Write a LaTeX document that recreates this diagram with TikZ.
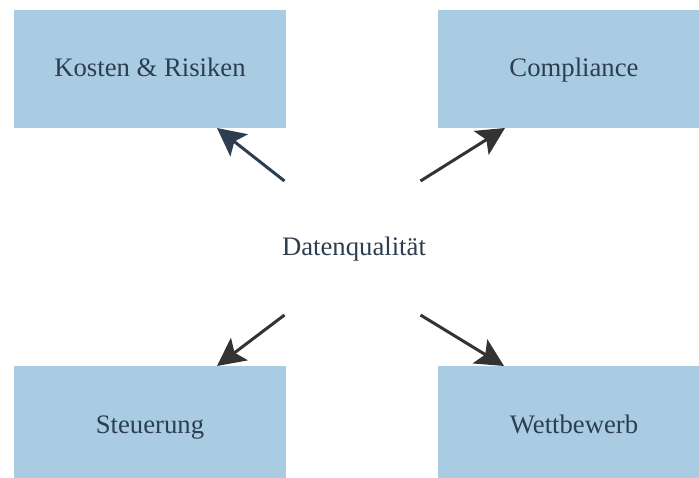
\documentclass[tikz,border=0pt]{standalone}
\usepackage{fontspec}
\setmainfont{Liberation Serif}
\usetikzlibrary{arrows.meta}
\definecolor{boxfill}{HTML}{A9CCE3}
\definecolor{navy}{HTML}{2C3E50}
\definecolor{dgray}{HTML}{333333}
\begin{document}
\begin{tikzpicture}[x=1pt,y=-1pt,
  box/.style={draw=none,fill=boxfill,minimum width=272pt,minimum height=118pt,inner sep=0pt,text height=16pt,text depth=0pt,text=navy,font=\fontsize{26.7}{30}\selectfont},
  center/.style={draw=none,inner sep=0pt,text height=18pt,text depth=0pt,text=navy,font=\fontsize{26.7}{30}\selectfont},
  arr/.style={line width=3pt,-{Stealth[length=28pt,width=28pt,inset=6pt]}}]
\clip (0,0) rectangle (699,478);
\useasboundingbox (0,0) rectangle (699,478);
\node[box] (kr) at (150,69) {Kosten \& Risiken};
\node[box] (co) at (574,69) {Compliance};
\node[box] (st) at (150,425) {Steuerung};
\node[box] (wb) at (574,425) {Wettbewerb};
\node[center] (dq) at (354,247) {Datenqualität};
\coordinate (s1) at (284.5,181);
\coordinate (s2) at (420.5,181);
\coordinate (s3) at (284.5,315);
\coordinate (s4) at (420.5,315);
\coordinate (t1) at (217,128);
\coordinate (t2) at (505,128);
\coordinate (t3) at (217,366);
\coordinate (t4) at (504,366);
\draw[arr,navy] (s1) -- (t1);
\draw[arr,dgray] (s2) -- (t2);
\draw[arr,dgray] (s3) -- (t3);
\draw[arr,dgray] (s4) -- (t4);
\end{tikzpicture}
\end{document}
